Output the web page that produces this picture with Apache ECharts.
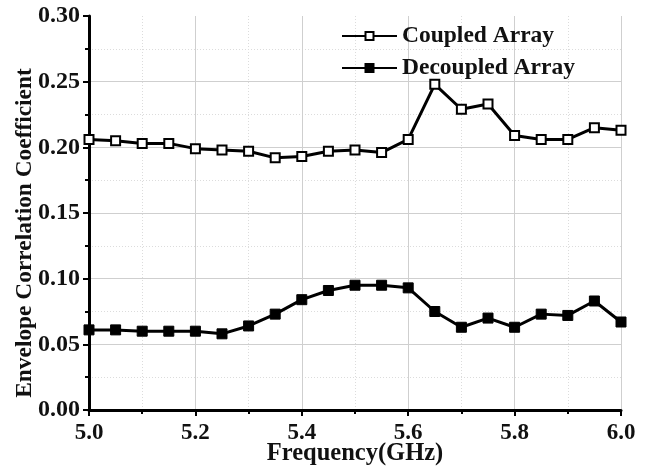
<!DOCTYPE html>
<html>
<head>
<meta charset="utf-8">
<script src="https://cdn.jsdelivr.net/npm/echarts@6/dist/echarts.min.js"></script>
<style>
html,body{margin:0;padding:0;background:#fff;}
#chart{width:650px;height:472px;}
</style>
</head>
<body>
<div id="chart"></div>
<script>
var frequency = [5.00, 5.05, 5.10, 5.15, 5.20, 5.25, 5.30, 5.35, 5.40, 5.45, 5.50,
                 5.55, 5.60, 5.65, 5.70, 5.75, 5.80, 5.85, 5.90, 5.95, 6.00];
var coupled = [0.206, 0.205, 0.203, 0.203, 0.199, 0.198, 0.197, 0.192, 0.193, 0.197, 0.198,
               0.196, 0.206, 0.248, 0.229, 0.233, 0.209, 0.206, 0.206, 0.215, 0.213];
var decoupled = [0.061, 0.061, 0.060, 0.060, 0.060, 0.058, 0.064, 0.073, 0.084, 0.091, 0.095,
                 0.095, 0.093, 0.075, 0.063, 0.070, 0.063, 0.073, 0.072, 0.083, 0.067];
var seriesNames = ['Coupled Array', 'Decoupled Array'];
var xTitle = 'Frequency(GHz)';
var yTitle = 'Envelope Correlation Coefficient';

function pairs(xs, ys) { return xs.map(function (x, i) { return [x, ys[i]]; }); }

var FONT = '"Liberation Serif", "Times New Roman", "DejaVu Serif", serif';
var chart = echarts.init(document.getElementById('chart'), null, {renderer: 'canvas'});
var option = {
  animation: false,
  backgroundColor: '#ffffff',
  grid: {left: 89, right: 29, top: 16, bottom: 62, containLabel: false, outerBoundsMode: 'none'},
  legend: {
    orient: 'vertical',
    left: 336,
    top: 19,
    itemWidth: 55,
    itemHeight: 10,
    itemGap: 8,
    data: seriesNames,
    textStyle: {fontFamily: FONT, fontWeight: 'bold', fontSize: 23.5, color: '#111', lineHeight: 22, padding: [0, 0, 0, 0]}
  },
  xAxis: {
    type: 'value', min: 5, max: 6, interval: 0.2,
    name: xTitle, nameLocation: 'middle', nameGap: 31, nameMoveOverlap: false,
    nameTextStyle: {fontFamily: FONT, fontWeight: 'bold', fontSize: 24.5, color: '#111'},
    axisLine: {show: true, onZero: false, lineStyle: {color: '#000', width: 3}},
    axisTick: {show: true, inside: false, length: 6, lineStyle: {color: '#000', width: 2}},
    minorTick: {show: true, splitNumber: 2, length: 4, lineStyle: {color: '#000', width: 2}},
    axisLabel: {fontFamily: FONT, fontWeight: 'bold', fontSize: 23, color: '#111', margin: 12,
      formatter: function (v) { return v.toFixed(1); }},
    splitLine: {show: true, lineStyle: {color: '#cfcfcf', width: 1}},
    minorSplitLine: {show: true, lineStyle: {color: '#dcdcdc', width: 1, type: [1, 2]}}
  },
  yAxis: {
    type: 'value', min: 0, max: 0.3, interval: 0.05,
    name: yTitle, nameLocation: 'middle', nameGap: 53, nameRotate: 90, nameMoveOverlap: false,
    nameTextStyle: {fontFamily: FONT, fontWeight: 'bold', fontSize: 23.4, color: '#111', padding: [0, 40, 0, 0]},
    axisLine: {show: true, onZero: false, lineStyle: {color: '#000', width: 3}},
    axisTick: {show: true, inside: false, length: 6, lineStyle: {color: '#000', width: 2}},
    minorTick: {show: true, splitNumber: 2, length: 4, lineStyle: {color: '#000', width: 2}},
    axisLabel: {fontFamily: FONT, fontWeight: 'bold', fontSize: 24, color: '#111', margin: 9,
      formatter: function (v) { return v.toFixed(2); }},
    splitLine: {show: true, showMaxLine: false, lineStyle: {color: '#cfcfcf', width: 1}},
    minorSplitLine: {show: true, lineStyle: {color: '#dcdcdc', width: 1, type: [1, 2]}}
  },
  series: [
    {
      name: seriesNames[0], type: 'line', data: pairs(frequency, coupled),
      symbol: 'rect', symbolSize: 9,
      lineStyle: {color: '#000', width: 3},
      itemStyle: {color: '#fff', borderColor: '#000', borderWidth: 2},
      z: 3
    },
    {
      name: seriesNames[1], type: 'line', data: pairs(frequency, decoupled),
      symbol: 'rect', symbolSize: 10,
      lineStyle: {color: '#000', width: 3},
      itemStyle: {color: '#000', borderColor: '#000', borderWidth: 1},
      z: 3
    }
  ]
};
chart.setOption(option);
</script>
</body>
</html>
